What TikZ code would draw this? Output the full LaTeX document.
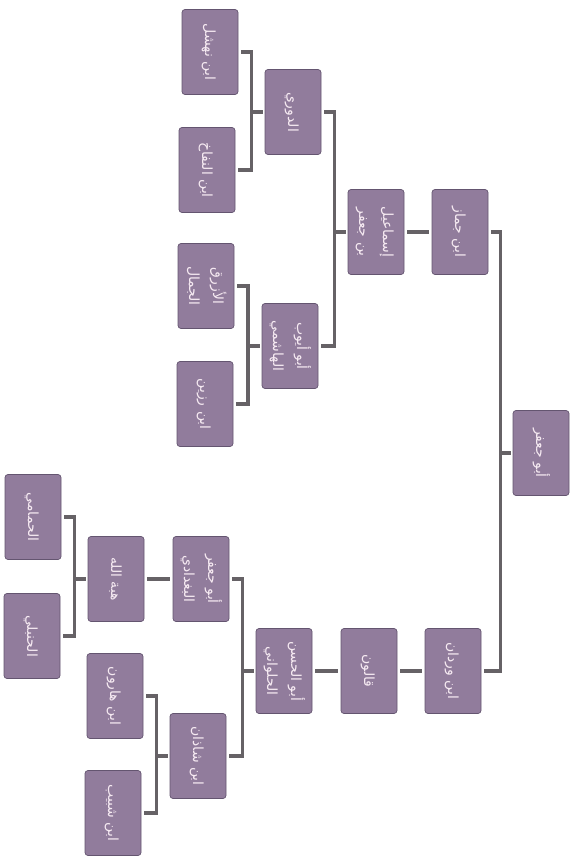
\documentclass[tikz,border=0pt]{standalone}
\usepackage{fontspec}
\usepackage{graphicx}
\usetikzlibrary{calc}
\TeXXeTstate=1
\newfontfamily\arabicfont[Script=Arabic]{DejaVu Sans}
\definecolor{boxfill}{HTML}{917C9C}
\definecolor{boxline}{HTML}{645570}
\definecolor{boxtext}{HTML}{F6EAF2}
\definecolor{connc}{HTML}{666266}
\newcommand\rtl[1]{\beginR #1\endR}
\newcommand\artext[1]{\rotatebox{-90}{\arabicfont\fontsize{14}{24}\selectfont\renewcommand\arraystretch{1}\begin{tabular}{@{}c@{}}#1\end{tabular}}}
\newcommand\fork[3]{%
  \path ($(#2.east)!0.5!(#1.west)$) coordinate (#1bus);
  \draw[conn] ([xshift=4pt]#2.east) -- (#1bus |- #2.east) -- (#1bus |- #3.east) -- ([xshift=4pt]#3.east);
  \draw[conn] (#1bus |- #1.west) -- ([xshift=-3pt]#1.west);}
\newcommand\link[2]{\draw[conn] ([xshift=-4pt]#1.west) -- ([xshift=4pt]#2.east);}
\begin{document}
\begin{tikzpicture}[x=1pt,y=-1pt,
  tbox/.style={draw=boxline, line width=0.7pt, fill=boxfill, text=boxtext,
    rounded corners=3pt, minimum width=56pt, minimum height=85pt, inner sep=0pt},
  conn/.style={draw=connc, line width=3.2pt, line cap=rect, line join=miter}]
\fill[white] (0,0) rectangle (578,858);
\useasboundingbox (0,0) rectangle (578,858);
% upper branch
\node[tbox] (root) at (541,453) {\artext{\rtl{أبو جعفر}}};
\node[tbox] (jammaz) at (460,232) {\artext{\rtl{ابن جماز}}};
\node[tbox] (ismail) at (376,232) {\artext{\rtl{إسماعيل}\\\rtl{بن جعفر}}};
\node[tbox] (duri) at (293,112) {\artext{\rtl{الدوري}}};
\node[tbox] (hashimi) at (290,346) {\artext{\rtl{أبو أيوب}\\\rtl{الهاشمي}}};
\node[tbox] (nahshal) at (210,52) {\artext{\rtl{ابن نهشل}}};
\node[tbox] (naffakh) at (207,170) {\artext{\rtl{ابن النفاخ}}};
\node[tbox] (azraq) at (206,286) {\artext{\rtl{الأزرق}\\\rtl{الجمال}}};
\node[tbox] (razin) at (205,404) {\artext{\rtl{ابن رزين}}};
% lower branch
\node[tbox] (wardan) at (453,671) {\artext{\rtl{ابن وردان}}};
\node[tbox] (qalun) at (369,671) {\artext{\rtl{قالون}}};
\node[tbox] (hulwani) at (284,671) {\artext{\rtl{أبو الحسن}\\\rtl{الحلواني}}};
\node[tbox] (baghdadi) at (201,579) {\artext{\rtl{أبو جعفر}\\\rtl{البغدادي}}};
\node[tbox] (shadhan) at (198,756) {\artext{\rtl{ابن شاذان}}};
\node[tbox] (hiba) at (116,579) {\artext{\rtl{هبة الله}}};
\node[tbox] (hammami) at (33,517) {\artext{\rtl{الحمامي}}};
\node[tbox] (hanbali) at (32,636) {\artext{\rtl{الحنبلي}}};
\node[tbox] (harun) at (115,696) {\artext{\rtl{ابن هارون}}};
\node[tbox] (shabib) at (113,813) {\artext{\rtl{ابن شبيب}}};
% connectors
\fork{root}{jammaz}{wardan}
\link{jammaz}{ismail}
\fork{ismail}{duri}{hashimi}
\fork{duri}{nahshal}{naffakh}
\fork{hashimi}{azraq}{razin}
\link{wardan}{qalun}
\link{qalun}{hulwani}
\fork{hulwani}{baghdadi}{shadhan}
\link{baghdadi}{hiba}
\fork{hiba}{hammami}{hanbali}
\fork{shadhan}{harun}{shabib}
\end{tikzpicture}
\end{document}
